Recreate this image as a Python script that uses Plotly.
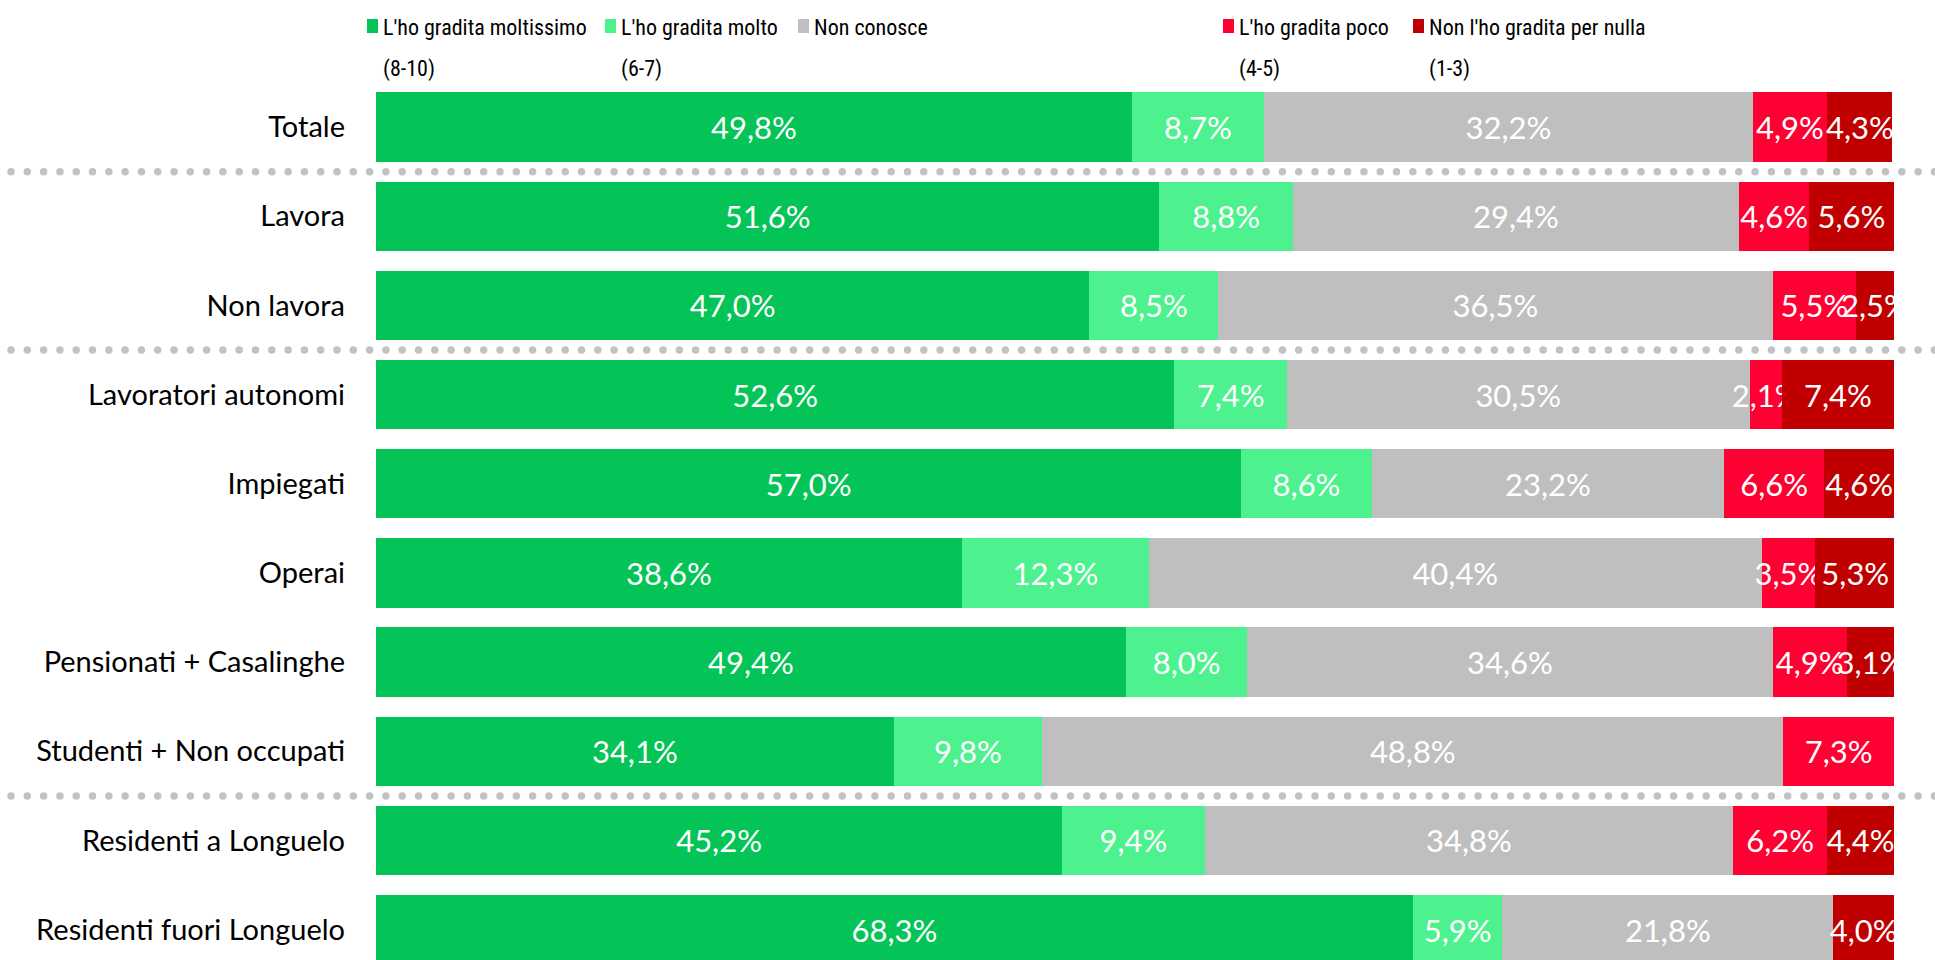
import numpy as np
import plotly.graph_objects as go

categories = ["Totale", "Lavora", "Non lavora", "Lavoratori autonomi", "Impiegati", "Operai",
              "Pensionati + Casalinghe", "Studenti + Non occupati", "Residenti a Longuelo",
              "Residenti fuori Longuelo"]

series_names = ["L'ho gradita moltissimo (8-10)", "L'ho gradita molto (6-7)", "Non conosce",
                "L'ho gradita poco (4-5)", "Non l'ho gradita per nulla (1-3)"]
legend_line1 = ["L'ho gradita moltissimo", "L'ho gradita molto", "Non conosce",
                "L'ho gradita poco", "Non l'ho gradita per nulla"]
legend_line2 = ["(8-10)", "(6-7)", "", "(4-5)", "(1-3)"]

moltissimo = [49.8, 51.6, 47.0, 52.6, 57.0, 38.6, 49.4, 34.1, 45.2, 68.3]
molto      = [8.7, 8.8, 8.5, 7.4, 8.6, 12.3, 8.0, 9.8, 9.4, 5.9]
non_conosce = [32.2, 29.4, 36.5, 30.5, 23.2, 40.4, 34.6, 48.8, 34.8, 21.8]
poco       = [4.9, 4.6, 5.5, 2.1, 6.6, 3.5, 4.9, 7.3, 6.2, None]
per_nulla  = [4.3, 5.6, 2.5, 7.4, 4.6, 5.3, 3.1, None, 4.4, 4.0]

series_values = [moltissimo, molto, non_conosce, poco, per_nulla]
colors = ["#05C457", "#4DF28F", "#BFBFBF", "#FF0033", "#C00000"]

group_separators = [0.5, 2.5, 7.5]

W, H = 1935, 960
MT, MB = 82, 0
PLOT_X0, PLOT_X1 = 376, 1894
FONT = "Lato"
LEGEND_FONT = "Roboto Condensed, Lato"


def px_x(px):
    return px / W


def px_y(py):
    return (H - MB - py) / (H - MT - MB)


def fmt(v):
    return "" if v is None else f"{v:.1f}%".replace(".", ",")


fig = go.Figure()
ypos = list(range(len(categories)))
for name, vals, col in zip(series_names, series_values, colors):
    fig.add_trace(go.Bar(
        y=ypos, x=vals, orientation="h", name=name,
        marker=dict(color=col, line=dict(width=0)),
        text=[fmt(v) for v in vals], textposition="inside", insidetextanchor="middle",
        constraintext="none", textangle=0,
        textfont=dict(family=FONT, size=31, color="white"),
        cliponaxis=True, showlegend=False, hoverinfo="skip",
    ))

# dotted group separators
for sep in group_separators:
    xs = np.arange(11, W, 16.3)
    fig.add_trace(go.Scatter(
        x=xs, y=[sep] * len(xs), xaxis="x2", yaxis="y2", mode="markers",
        marker=dict(size=7.5, color="#C2C2C2", line=dict(width=0)),
        showlegend=False, hoverinfo="skip", cliponaxis=False,
    ))

# manual legend
legend_sq_x = [367, 605, 798, 1223, 1413]
for i, col in enumerate(colors):
    x0 = legend_sq_x[i]
    fig.add_shape(type="rect", xref="paper", yref="paper",
                  x0=px_x(x0), x1=px_x(x0 + 11), y0=px_y(33), y1=px_y(19),
                  fillcolor=col, line=dict(width=0))
    fig.add_annotation(xref="paper", yref="paper", x=px_x(x0 + 14), y=px_y(27),
                       text=legend_line1[i], showarrow=False, xanchor="left", yanchor="middle",
                       font=dict(family=LEGEND_FONT, size=22, color="black"))
    if legend_line2[i]:
        fig.add_annotation(xref="paper", yref="paper", x=px_x(x0 + 14), y=px_y(69),
                           text=legend_line2[i], showarrow=False, xanchor="left", yanchor="middle",
                           font=dict(family=LEGEND_FONT, size=22, color="black"))

yrange = [9.34, -0.505]
fig.update_layout(
    width=W, height=H,
    margin=dict(l=0, r=0, t=MT, b=MB, pad=0, autoexpand=False),
    barmode="stack", bargap=0.222,
    plot_bgcolor="rgba(0,0,0,0)", paper_bgcolor="white",
    xaxis=dict(domain=[PLOT_X0 / W, PLOT_X1 / W], range=[0, 100], visible=False,
               fixedrange=True, automargin=False),
    yaxis=dict(range=yrange, tickvals=ypos, ticktext=categories, showgrid=False, zeroline=False,
               showline=False, ticks="", ticklabelstandoff=30, automargin=False,
               tickfont=dict(family=FONT, size=29, color="black"), fixedrange=True),
    xaxis2=dict(domain=[0, 1], range=[0, W], visible=False, anchor="y2", automargin=False),
    yaxis2=dict(domain=[0, 1], range=yrange, visible=False, anchor="x2", automargin=False),
    showlegend=False,
    font=dict(family=FONT),
)

fig.write_html("out.html", config={"displayModeBar": False},
               post_script="document.body.style.margin='0px';")
